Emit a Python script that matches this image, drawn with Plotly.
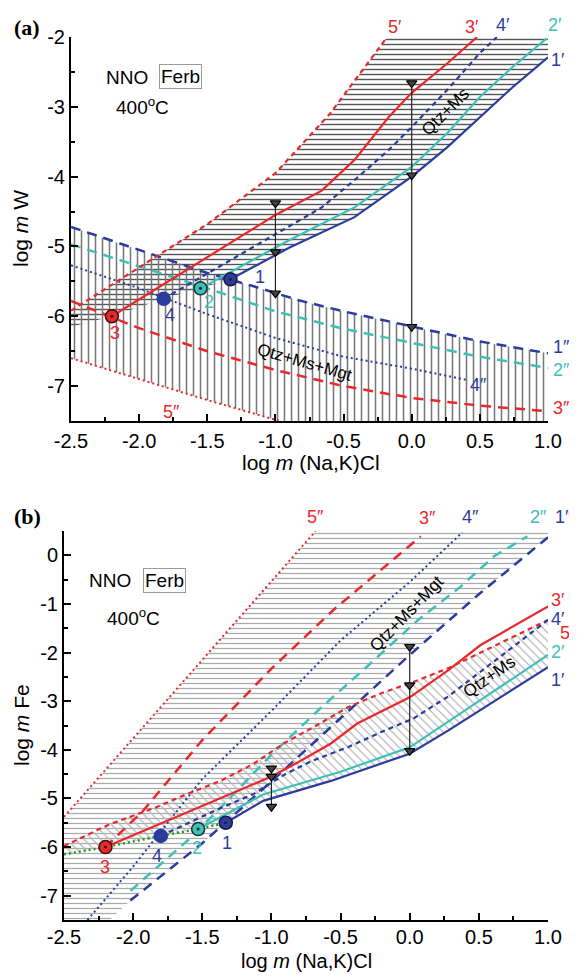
import plotly.graph_objects as go

# The page is drawn inside an 8px body margin, so the figure is laid out 8px smaller
PAGE_W, PAGE_H, PAD = 577, 975, 8
W, H = PAGE_W - PAD, PAGE_H - PAD
RED, BLUE, CYAN, GREEN = '#e8282b', '#2b3c9e', '#3dc0b8', '#1f9a2a'
FONT = 'Liberation Sans, Arial, sans-serif'

# ---------------- panel (a): log m W ----------------
A_1p_x = [-1.33, -0.9, -0.42, 0.0, 0.26, 0.5, 0.74, 1.0]
A_1p_y = [-5.47, -5.02, -4.58, -4.0, -3.58, -3.15, -2.72, -2.29]
A_2p_x = [-1.55, -0.9, -0.42, 0.0, 0.26, 0.5, 0.74, 0.99]
A_2p_y = [-5.60, -4.91, -4.44, -3.86, -3.38, -2.86, -2.43, -2.02]
A_3p_x = [-2.20, -1.0, -0.66, -0.42, -0.17, 0.0, 0.26, 0.48]
A_3p_y = [-6.00, -4.55, -4.2, -3.76, -3.15, -2.80, -2.38, -2.0]
A_4p_x = [-1.82, -0.9, -0.66, -0.42, -0.17, 0.0, 0.26, 0.5, 0.625]
A_4p_y = [-5.75, -4.72, -4.44, -4.05, -3.62, -3.29, -2.76, -2.23, -2.0]
A_5p_x = [-2.5, -2.0, -1.5, -1.0, -0.6, -0.18]
A_5p_y = [-5.92, -5.3, -4.68, -3.95, -3.1, -2.0]
A_1pp_x = [-2.5, -2.0, -1.5, -1.16, -0.83, -0.5, 0.0, 0.5, 1.0]
A_1pp_y = [-4.72, -5.05, -5.38, -5.57, -5.77, -5.93, -6.15, -6.36, -6.53]
A_2pp_x = [-2.5, -2.0, -1.5, -1.0, -0.5, 0.0, 0.5, 1.0]
A_2pp_y = [-4.97, -5.28, -5.6, -5.93, -6.18, -6.38, -6.58, -6.74]
A_3pp_x = [-2.5, -2.0, -1.5, -1.0, -0.5, 0.0, 0.5, 1.0]
A_3pp_y = [-5.78, -6.17, -6.5, -6.77, -7.0, -7.17, -7.28, -7.36]
A_4pp_x = [-2.5, -2.0, -1.5, -1.0, -0.5, 0.0, 0.4]
A_4pp_y = [-5.27, -5.6, -5.97, -6.31, -6.58, -6.75, -6.91]
A_5pp_x = [-2.5, -2.0, -1.5, -0.97]
A_5pp_y = [-6.6, -6.9, -7.2, -7.5]
A_sat_x = [-2.5, -2.2, -1.82, -1.55, -1.33]
A_sat_y = [-6.15, -6.0, -5.75, -5.6, -5.47]
A_pt_x = [-1.33, -1.55, -2.2, -1.82]
A_pt_y = [-5.47, -5.6, -6.0, -5.75]
A_arr1_y = [-4.38, -5.08, -5.67]
A_arr2_y = [-2.66, -3.98, -6.15]

# ---------------- panel (b): log m Fe ----------------
B_1p_x = [-1.33, -1.06, -0.57, 0.0, 0.28, 1.0]
B_1p_y = [-5.5, -5.05, -4.64, -4.08, -3.6, -2.3]
B_2p_x = [-1.53, -1.06, -0.5, 0.0, 0.5, 1.0]
B_2p_y = [-5.63, -4.92, -4.45, -3.95, -3.0, -2.05]
B_3p_x = [-2.2, -1.0, -0.81, -0.57, -0.38, 0.0, 0.28, 0.51, 1.0]
B_3p_y = [-6.0, -4.55, -4.26, -3.87, -3.46, -2.92, -2.36, -1.85, -1.05]
B_4p_x = [-1.8, -1.37, -1.13, -0.9, -0.7, -0.45, -0.21, 0.03, 0.28, 1.0]
B_4p_y = [-5.77, -5.2, -4.91, -4.5, -4.22, -3.95, -3.64, -3.35, -2.9, -1.33]
B_5p_x = [-2.5, -2.17, -1.85, -1.61, -1.37, -1.13, -0.9, -0.7, -0.45, -0.21, 0.03, 0.28, 1.0]
B_5p_y = [-5.98, -5.53, -5.2, -4.91, -4.64, -4.29, -3.85, -3.54, -3.13, -2.84, -2.6, -2.32, -1.33]
B_1pp_x = [-2.02, -1.5, -1.0, -0.5, 0.0, 0.5, 1.0]
B_1pp_y = [-7.1, -5.92, -4.65, -3.35, -2.05, -0.8, 0.37]
B_2pp_x = [-2.02, -1.6, -1.37, -1.0, -0.64, -0.36, 0.06, 0.37, 0.61, 0.85]
B_2pp_y = [-6.9, -5.85, -5.2, -4.1, -3.13, -2.42, -1.33, -0.64, -0.02, 0.39]
B_3pp_x = [-2.2, -1.93, -1.5, -1.0, -0.55, 0.08]
B_3pp_y = [-6.0, -5.26, -3.8, -2.33, -1.12, 0.39]
B_4pp_x = [-2.33, -2.0, -1.5, -1.0, -0.5, 0.0, 0.38]
B_4pp_y = [-7.5, -6.4, -4.6, -3.2, -1.75, -0.55, 0.47]
B_5pp_x = [-2.5, -0.68]
B_5pp_y = [-5.38, 0.5]
B_sat_x = [-2.5, -2.2, -1.8, -1.53, -1.33]
B_sat_y = [-6.15, -6.0, -5.77, -5.63, -5.5]
B_pt_x = [-1.33, -1.53, -2.2, -1.8]
B_pt_y = [-5.5, -5.63, -6.0, -5.77]
B_arr1_y = [-4.38, -4.55, -5.17]
B_arr2_y = [-1.88, -2.67, -4.02]

X_RANGE = [-2.5, 1.0]
YA_RANGE = [-7.5, -2.0]
YB_RANGE = [-7.5, 0.5]
X_TICKS = [-2.5, -2.0, -1.5, -1.0, -0.5, 0.0, 0.5, 1.0]
X_TICKTEXT = ['-2.5', '-2.0', '-1.5', '-1.0', '-0.5', '0.0', '0.5', '1.0']
YA_TICKS = [-7, -6, -5, -4, -3, -2]
YA_TICKTEXT = ['-7', '-6', '-5', '-4', '-3', '-2']
YB_TICKS = [-7, -6, -5, -4, -3, -2, -1, 0]
YB_TICKTEXT = ['-7', '-6', '-5', '-4', '-3', '-2', '-1', '0']


def fx(px):
    return (px - PAD) / W


def fy(py):
    return 1 - (py - PAD) / H


fig = go.Figure()


def refs(ax):
    return ('x', 'y') if ax == 1 else ('x2', 'y2')


def add_line(x, y, color, dash='solid', width=2.0, ax=1):
    xr, yr = refs(ax)
    fig.add_trace(go.Scatter(x=x, y=y, mode='lines', hoverinfo='skip',
                             line=dict(color=color, width=width, dash=dash),
                             xaxis=xr, yaxis=yr))


def add_hatch(px, py, shape, color, size, solidity, ax=1):
    xr, yr = refs(ax)
    fig.add_trace(go.Scatter(x=px, y=py, mode='lines', fill='toself', hoverinfo='skip',
                             line=dict(width=0, color='rgba(0,0,0,0)'),
                             fillcolor='rgba(0,0,0,0)',
                             fillpattern=dict(shape=shape, fgcolor=color, size=size,
                                              solidity=solidity),
                             xaxis=xr, yaxis=yr))


LONG = '10px,7px'
SHORT = '5px,4px'
DOT = '2px,3px'

# ---- panel (a) hatching ----
ha_x = A_5p_x + [1.0] + A_1p_x[::-1] + A_sat_x[::-1][1:]
ha_y = A_5p_y + [-2.0] + A_1p_y[::-1] + A_sat_y[::-1][1:]
add_hatch(ha_x, ha_y, '-', '#555', 5, 0.28, 1)
va_x = A_1pp_x + [1.0] + A_5pp_x[::-1]
va_y = A_1pp_y + [-7.5] + A_5pp_y[::-1]
add_hatch(va_x, va_y, '|', '#777', 7, 0.22, 1)

# ---- panel (b) hatching ----
hb_x = B_5pp_x + [1.0] + B_1pp_x[::-1] + [-2.17, -2.5]
hb_y = B_5pp_y + [0.5] + B_1pp_y[::-1] + [-7.5, -7.5]
add_hatch(hb_x, hb_y, '-', '#aaa', 5, 0.25, 2)
db_x = B_5p_x + B_1p_x[::-1] + B_sat_x[::-1][1:]
db_y = B_5p_y + B_1p_y[::-1] + B_sat_y[::-1][1:]
add_hatch(db_x, db_y, '\\', '#b5b5b5', 6, 0.2, 2)

# ---- panel (a) lines ----
add_line(A_5pp_x, A_5pp_y, RED, DOT, 2, 1)
add_line(A_3pp_x, A_3pp_y, RED, LONG, 2.5, 1)
add_line(A_4pp_x, A_4pp_y, BLUE, DOT, 2, 1)
add_line(A_2pp_x, A_2pp_y, CYAN, LONG, 2.5, 1)
add_line(A_1pp_x, A_1pp_y, BLUE, LONG, 2.5, 1)
add_line(A_5p_x, A_5p_y, RED, SHORT, 2.2, 1)
add_line(A_4p_x, A_4p_y, BLUE, SHORT, 2.2, 1)
add_line(A_1p_x, A_1p_y, BLUE, 'solid', 2.2, 1)
add_line(A_2p_x, A_2p_y, CYAN, 'solid', 2.2, 1)
add_line(A_3p_x, A_3p_y, RED, 'solid', 2.2, 1)

# ---- panel (b) lines ----
add_line(B_5pp_x, B_5pp_y, RED, DOT, 2, 2)
add_line(B_3pp_x, B_3pp_y, RED, LONG, 2.5, 2)
add_line(B_4pp_x, B_4pp_y, BLUE, DOT, 2, 2)
add_line(B_2pp_x, B_2pp_y, CYAN, LONG, 2.5, 2)
add_line(B_1pp_x, B_1pp_y, BLUE, LONG, 2.5, 2)
add_line(B_5p_x, B_5p_y, RED, SHORT, 2.2, 2)
add_line(B_4p_x, B_4p_y, BLUE, SHORT, 2.2, 2)
add_line(B_sat_x, B_sat_y, GREEN, DOT, 2.5, 2)
add_line(B_1p_x, B_1p_y, BLUE, 'solid', 2.2, 2)
add_line(B_2p_x, B_2p_y, CYAN, 'solid', 2.2, 2)
add_line(B_3p_x, B_3p_y, RED, 'solid', 2.2, 2)

# ---- arrows ----
for ax, xs, ys in [(1, -1.0, A_arr1_y), (1, 0.0, A_arr2_y), (2, -1.0, B_arr1_y), (2, 0.0, B_arr2_y)]:
    xr, yr = refs(ax)
    fig.add_trace(go.Scatter(x=[xs] * len(ys), y=ys, mode='lines+markers', hoverinfo='skip',
                             line=dict(color='#222', width=1.2),
                             marker=dict(symbol='triangle-down', size=9, color='#444',
                                         line=dict(color='black', width=1.2)),
                             xaxis=xr, yaxis=yr))

# ---- points ----
PT_COLORS = [BLUE, CYAN, RED, BLUE]
PT_LINE = ['#1a1a40', '#1a3030', '#401010', BLUE]
for ax, px, py in [(1, A_pt_x, A_pt_y), (2, B_pt_x, B_pt_y)]:
    xr, yr = refs(ax)
    fig.add_trace(go.Scatter(x=px, y=py, mode='markers', hoverinfo='skip',
                             marker=dict(size=13, color=PT_COLORS,
                                         line=dict(color=PT_LINE, width=1.5)),
                             xaxis=xr, yaxis=yr))
    fig.add_trace(go.Scatter(x=px[:3], y=py[:3], mode='markers', hoverinfo='skip',
                             marker=dict(size=3, color='#222'),
                             xaxis=xr, yaxis=yr))

# ---- curve labels (placed relative to the axis domain so labels outside the range still show) ----
A_LABELS = [('5′', -0.12, -1.86, RED), ('3′', 0.44, -1.86, RED), ('4′', 0.67, -1.83, BLUE),
            ('2′', 1.05, -1.83, CYAN), ('1′', 1.07, -2.33, BLUE),
            ('1″', 1.1, -6.44, BLUE), ('2″', 1.1, -6.77, CYAN), ('3″', 1.1, -7.31, RED),
            ('4″', 0.49, -6.99, BLUE), ('5″', -1.76, -7.37, RED),
            ('1', -1.11, -5.44, BLUE), ('2', -1.49, -5.8, CYAN), ('4', -1.77, -5.98, BLUE),
            ('3', -2.18, -6.24, RED)]
B_LABELS = [('5″', -0.68, 0.78, RED), ('3″', 0.13, 0.76, RED), ('4″', 0.44, 0.78, BLUE),
            ('2″', 0.93, 0.78, CYAN), ('1″', 1.11, 0.78, BLUE),
            ('3′', 1.07, -0.91, RED), ('4′', 1.07, -1.3, BLUE), ('5′', 1.14, -1.6, RED),
            ('2′', 1.07, -1.99, CYAN), ('1′', 1.07, -2.57, BLUE),
            ('3', -2.2, -6.4, RED), ('4', -1.83, -6.19, BLUE), ('2', -1.54, -6.02, CYAN),
            ('1', -1.32, -5.92, BLUE)]


def dom_annot(ax, x, y, text, **kw):
    xr, yr = refs(ax)
    yrng = YA_RANGE if ax == 1 else YB_RANGE
    ux = (x - X_RANGE[0]) / (X_RANGE[1] - X_RANGE[0])
    uy = (y - yrng[0]) / (yrng[1] - yrng[0])
    fig.add_annotation(x=ux, y=uy, xref=xr + ' domain', yref=yr + ' domain', text=text,
                       showarrow=False, xanchor='center', yanchor='middle', **kw)


for ax, labels in [(1, A_LABELS), (2, B_LABELS)]:
    for t, x, y, c in labels:
        dom_annot(ax, x, y, t, font=dict(family=FONT, size=18, color=c))

# ---- field labels ----
FIELDS = [(1, 'Qtz+Ms', 0.25, -3.07, -45), (1, 'Qtz+Ms+Mgt', -0.78, -6.66, 16),
          (2, 'Qtz+Ms+Mgt', -0.02, -1.2, -46), (2, 'Qtz+Ms', 0.58, -2.5, -35)]
for ax, t, x, y, ang in FIELDS:
    dom_annot(ax, x, y, t, textangle=ang, font=dict(family=FONT, size=17, color='black'))


def pa(text, px, py, size=19, angle=0, **kw):
    fig.add_annotation(x=fx(px), y=fy(py), xref='paper', yref='paper', text=text,
                       showarrow=False, textangle=angle, xanchor='center', yanchor='middle',
                       font=dict(family=kw.pop('family', FONT), size=size, color='black'), **kw)


SERIF = 'Liberation Serif, Times New Roman, serif'
pa('<b>(a)</b>', 27, 27, 22, family=SERIF)
pa('<b>(b)</b>', 27, 516, 22, family=SERIF)
pa('NNO', 127, 78)
pa('Ferb', 180, 77, bordercolor='#999', borderwidth=1, borderpad=1)
pa('400<sup>o</sup>C', 142, 106)
pa('NNO', 110, 580)
pa('Ferb', 164, 580, bordercolor='#999', borderwidth=1, borderpad=1)
pa('400<sup>o</sup>C', 133, 617)
pa('log <i>m</i> W', 21, 229, 21, -90)
pa('log <i>m</i> (Na,K)Cl', 311, 463, 21)
pa('log <i>m</i> Fe', 21, 725, 21, -90)
pa('log <i>m</i> (Na,K)Cl', 306, 961, 20)

axis_common = dict(showline=True, linecolor='black', linewidth=2, ticks='inside', ticklen=7,
                   tickwidth=1.8, tickcolor='black', showgrid=False, zeroline=False,
                   automargin=False,
                   tickfont=dict(family=FONT, size=20, color='black'), mirror=False)
minor_x = dict(ticks='inside', dtick=0.25, tick0=0, ticklen=4, tickwidth=1.5, tickcolor='black')
minor_y = dict(ticks='inside', dtick=0.5, tick0=0, ticklen=4, tickwidth=1.5, tickcolor='black')
fig.update_layout(
    template='none',
    width=W, height=H, autosize=False,
    margin=dict(l=0, r=0, t=0, b=0, pad=0, autoexpand=False),
    font=dict(family=FONT, size=19, color='black'),
    plot_bgcolor='white', paper_bgcolor='white', showlegend=False,
    xaxis=dict(domain=[fx(71), fx(548)], range=X_RANGE, anchor='y', ticklabelstandoff=1,
               tickvals=X_TICKS, ticktext=X_TICKTEXT, minor=minor_x, **axis_common),
    yaxis=dict(domain=[fy(421), fy(37)], range=YA_RANGE, anchor='x',
               tickvals=YA_TICKS, ticktext=YA_TICKTEXT, minor=minor_y, **axis_common),
    xaxis2=dict(domain=[fx(64), fx(548)], range=X_RANGE, anchor='y2', ticklabelstandoff=-2,
                tickvals=X_TICKS, ticktext=X_TICKTEXT, minor=minor_x, **axis_common),
    yaxis2=dict(domain=[fy(920), fy(531)], range=YB_RANGE, anchor='x2',
                tickvals=YB_TICKS, ticktext=YB_TICKTEXT, minor=minor_y, **axis_common),
)

fig.write_html('out.html')
